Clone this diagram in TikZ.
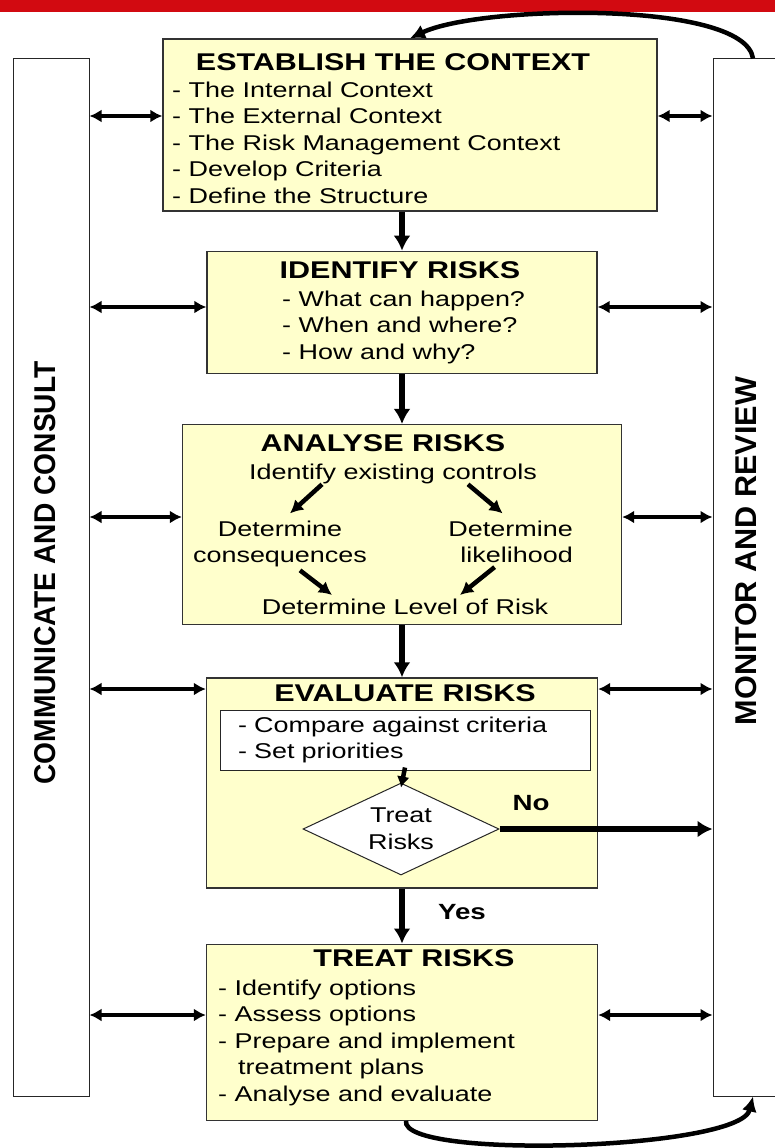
\documentclass[tikz,border=0pt]{standalone}
\usepackage{fontspec}
\setmainfont{Liberation Sans}[FakeStretch=1.26]
\usepackage{graphicx}
\usetikzlibrary{shapes.geometric, arrows.meta, positioning, calc}
\definecolor{colorBox}{HTML}{FFFFCC}
\definecolor{colorBar}{HTML}{D20A11}

\begin{document}
\begin{tikzpicture}[x=1pt, y=-1pt,
        box/.style={draw=black!80, fill=colorBox, line width=1.3pt, inner sep=0pt},
        side/.style={draw=black!85, fill=white, line width=1pt, inner sep=0pt},
        hd/.style={font=\fontsize{24.2}{28}\selectfont\bfseries, inner sep=0pt},
        txt/.style={font=\fontsize{21.4}{26.6}\selectfont, align=left, inner sep=0pt},
        lbl/.style={font=\fontsize{22}{26}\selectfont\bfseries, inner sep=0pt},
        flow/.style={-{Latex[length=15pt,width=17pt]}, line width=5.5pt},
        inner/.style={-{Latex[length=13pt,width=14pt]}, line width=4.5pt},
        dbl/.style={{Latex[length=12pt,width=13pt]}-{Latex[length=12pt,width=13pt]}, line width=3.5pt},
        back/.style={-{Latex[length=15pt,width=15pt]}, line width=4.5pt}
    ]
        \useasboundingbox (0,0) rectangle (775,1148);
        \fill[colorBar] (0,0) rectangle (775,12);

        \node[side, minimum width=76pt, minimum height=1037pt] (comm) at (51,577.5) {};
        \node[side, minimum width=68pt, minimum height=1037pt] (mon) at (747,577.5) {};
        \node[rotate=90, inner sep=0pt] (commT) at (45,573) {\resizebox{423pt}{21pt}{\bfseries COMMUNICATE AND CONSULT}};
        \node[rotate=90, inner sep=0pt] (monT) at (746,551) {\resizebox{348pt}{21pt}{\bfseries MONITOR AND REVIEW}};

        \node[box, minimum width=494pt, minimum height=172pt] (ctx) at (410,125) {};
        \node[box, minimum width=390pt, minimum height=122pt, below=39pt of ctx, xshift=-8pt] (idf) {};
        \node[box, minimum width=439pt, minimum height=200pt, below=50pt of idf] (ana) {};
        \node[box, minimum width=391pt, minimum height=210pt, below=52pt of ana] (eva) {};
        \node[box, minimum width=391pt, minimum height=176pt, below=55pt of eva] (trt) {};

        \node[hd] (ctxT) at (393,62) {ESTABLISH THE CONTEXT};
        \node[txt, anchor=north west] (ctxL) at (172,81.4) {- The Internal Context\\- The External Context\\- The Risk Management Context\\- Develop Criteria\\- Define the Structure};

        \node[hd] (idfT) at (400,270) {IDENTIFY RISKS};
        \node[txt, anchor=north west] (idfL) at (282,290.4) {- What can happen?\\- When and where?\\- How and why?};

        \node[hd] (anaT) at (383,443) {ANALYSE RISKS};
        \node[txt, anchor=base] (ctl) at (393,479.7) {Identify existing controls};
        \node[txt, align=center, anchor=north] (csq) at (280,520.4) {Determine\\consequences};
        \node[txt, align=right, anchor=north east] (lkh) at (573,520.4) {Determine\\likelihood};
        \node[txt, anchor=base] (lvl) at (405,614.7) {Determine Level of Risk};
        \draw[inner] ([xshift=-71pt]ctl.south) -- ([xshift=10pt,yshift=7pt]csq.north);
        \draw[inner] ([xshift=75pt]ctl.south) -- ([xshift=-8pt,yshift=7pt]lkh.north);
        \draw[inner] ([xshift=20pt,yshift=-3pt]csq.south) -- ([xshift=-73pt,yshift=4pt]lvl.north);
        \draw[inner] ([xshift=-16pt,yshift=-4pt]lkh.south) -- ([xshift=55pt,yshift=4pt]lvl.north);

        \node[hd] (evaT) at (405,693) {EVALUATE RISKS};
        \node[txt, draw=black!85, fill=white, line width=1pt, minimum width=370pt, minimum height=60pt,
            text width=334pt, inner xsep=18pt] (cmp) at (405,740) {- Compare against criteria\\- Set priorities};
        \node[txt, align=center, draw=black!85, fill=white, line width=1pt, diamond, aspect=2.13,
            minimum width=196pt, minimum height=92pt] (dec) at (401,829) {Treat\\Risks};
        \node[lbl] (no) at (531,803) {No};
        \node[lbl] (yes) at (462,912) {Yes};

        \node[hd] (trtT) at (414,958) {TREAT RISKS};
        \node[txt, anchor=north west] (trtL) at (218,979.4) {- Identify options\\- Assess options\\- Prepare and implement\\\hspace*{20pt}treatment plans\\- Analyse and evaluate};

        \draw[flow] (ctx.south -| idf.north) -- (idf.north);
        \draw[flow] (idf) -- (ana);
        \draw[flow] (ana) -- (eva);
        \draw[-{Latex[length=11pt,width=13pt]}, line width=4.5pt] ([yshift=3pt]cmp.south) -- ([yshift=-5pt]dec.north);
        \draw[flow] (eva) -- (trt);
        \draw[flow] (dec.east) -- (dec.east -| mon.west);

        \foreach \b/\y in {ctx/116, idf/307, ana/517, eva/689, trt/1015}{
            \draw[dbl] (comm.east |- 0,\y) -- (\b.west |- 0,\y);
            \draw[dbl] (\b.east |- 0,\y) -- (mon.west |- 0,\y);
        }

        \draw[back] ([xshift=6pt]mon.north) .. controls (745,0) and (480,5) .. (ctx.north);
        \draw[back] ([xshift=4pt]trt.south) .. controls (400,1160) and (740,1150) .. ([xshift=6pt]mon.south);
    \end{tikzpicture}
\end{document}
